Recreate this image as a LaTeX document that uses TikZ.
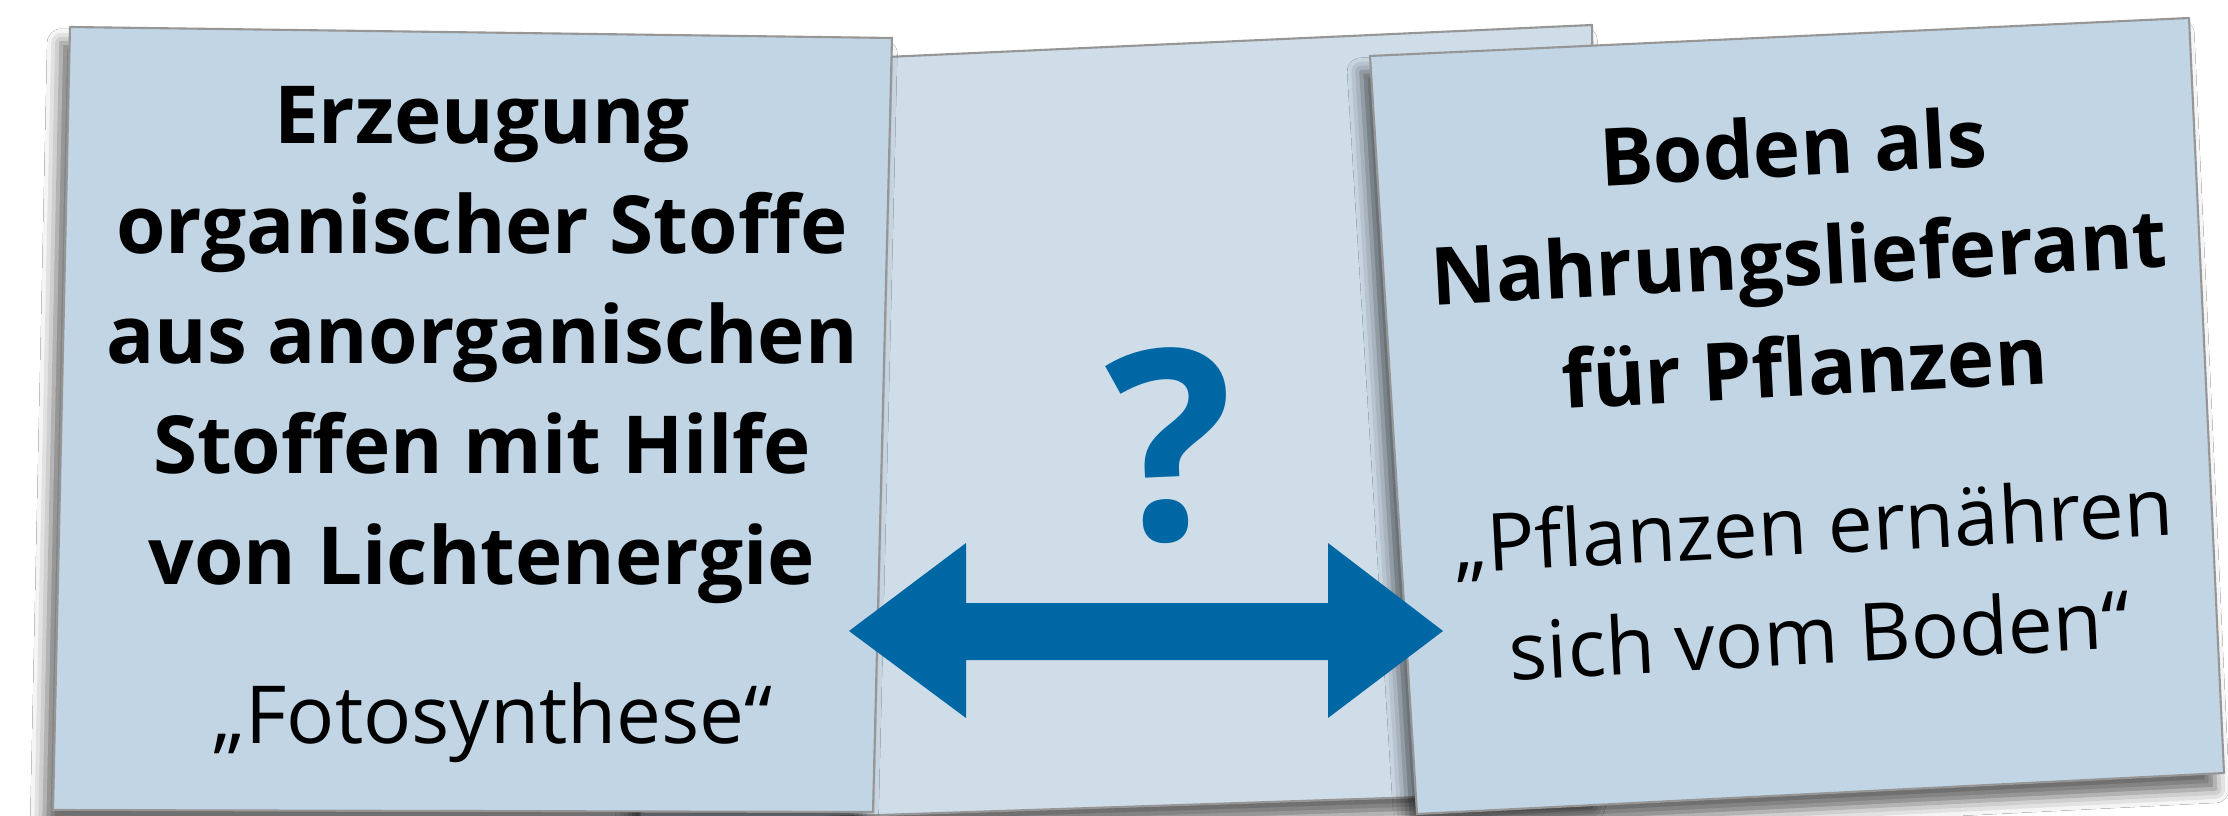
\documentclass[tikz,border=0pt]{standalone}
\usepackage{fontspec}
\setmainfont{Open Sans}
\usetikzlibrary{shadows.blur}
\definecolor{cardfill}{RGB}{194,213,228}
\definecolor{midfill}{RGB}{207,221,233}
\definecolor{cardline}{RGB}{150,150,150}
\definecolor{arrowblue}{RGB}{0,103,165}
\begin{document}
\begin{tikzpicture}[x=0.01cm,y=-0.01cm,
  card/.style={draw=cardline, line width=0.6pt, line join=round},
  cardshadow/.style={blur shadow={shadow xshift=-2.5pt, shadow yshift=-4.5pt, shadow blur radius=4pt, shadow opacity=60, shadow scale=1.0}},
  headtext/.style={font=\bfseries\fontsize{22.76}{31.3}\selectfont, align=center, anchor=base, inner sep=0pt},
  quotetext/.style={font=\fontsize{22.76}{31.3}\selectfont, align=center, anchor=base, inner sep=0pt},
]
\clip (0,0) rectangle (2228,816);
\fill[white] (0,0) rectangle (2228,816);

% middle card
\draw[card, fill=midfill, cardshadow] (600,70) -- (1592,25) -- (1600,791) -- (640,823) -- cycle;
% left card
\draw[card, fill=cardfill, cardshadow] (70,27) -- (892,38) -- (873,812) -- (53,810) -- cycle;
% right card
\draw[card, fill=cardfill, cardshadow] (1370,56) -- (2189,18) -- (2224,773) -- (1417,814) -- cycle;

% texts (anchor = baseline of the last line)
\node[headtext] (lhead) at (482,584) {Erzeugung\\organischer Stoffe\\aus anorganischen\\Stoffen mit Hilfe\\von Lichtenergie};
\node[quotetext] (lquote) at (493,743) {„Fotosynthese“};
\node[font=\bfseries\fontsize{75.5}{90}\selectfont, text=arrowblue, anchor=base, inner sep=0pt, rotate=2.5] (qmark) at (1176,540) {?};
\node[headtext, rotate=3] (rhead) at (1806,396) {Boden als\\Nahrungslieferant\\für Pflanzen};
\node[quotetext, rotate=3] (rquote) at (1821,664) {„Pflanzen ernähren\\sich vom Boden“};

% double arrow
\fill[arrowblue] (849,631) -- (966,543) -- (966,603) -- (1328,603) -- (1328,543) -- (1443,631)
  -- (1328,718) -- (1328,660) -- (966,660) -- (966,718) -- cycle;
\end{tikzpicture}
\end{document}
